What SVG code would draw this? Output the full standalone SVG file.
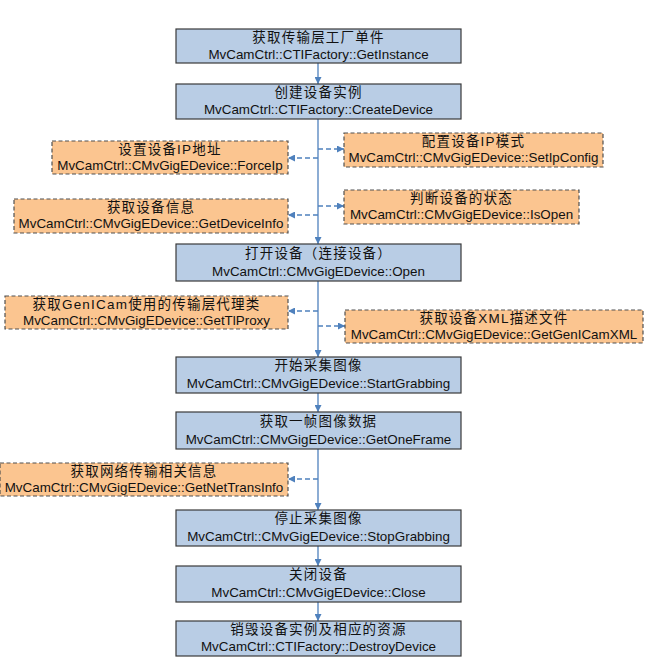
<svg xmlns="http://www.w3.org/2000/svg" width="649" height="667" viewBox="0 0 649 667">
<style>
.main rect{fill:#B9CDE5;stroke:#3a3a3a;stroke-width:1.2}
.opt rect{fill:#FBC590;stroke:#505050;stroke-width:1.2;stroke-dasharray:4 2.5}
text{font-family:"Liberation Sans","Noto Sans CJK SC",sans-serif;font-size:13.4px;fill:#111;text-anchor:middle}
text.cn{font-size:13.5px;letter-spacing:1.2px}
.flow{stroke:#4F81BD;stroke-width:1.3;fill:none}
.dash{stroke:#4F81BD;stroke-width:1.3;fill:none;stroke-dasharray:5 3}
</style>
<defs>
<marker id="ah" viewBox="0 0 10 10" refX="10" refY="5" markerWidth="7" markerHeight="7" markerUnits="userSpaceOnUse" orient="auto">
<path d="M0,0 L10,5 L0,10 Z" fill="#4F81BD"/>
</marker>
</defs>
<g id="connectors">
<line class="flow" x1="318" y1="63" x2="318" y2="84" marker-end="url(#ah)"/>
<line class="flow" x1="318" y1="119" x2="318" y2="244" marker-end="url(#ah)"/>
<line class="flow" x1="318" y1="281" x2="318" y2="357" marker-end="url(#ah)"/>
<line class="flow" x1="318" y1="393" x2="318" y2="412" marker-end="url(#ah)"/>
<line class="flow" x1="318" y1="449" x2="318" y2="510" marker-end="url(#ah)"/>
<line class="flow" x1="318" y1="546" x2="318" y2="566" marker-end="url(#ah)"/>
<line class="flow" x1="318" y1="602" x2="318" y2="621" marker-end="url(#ah)"/>
<line class="dash" x1="318" y1="158" x2="288" y2="158" marker-end="url(#ah)"/>
<line class="dash" x1="318" y1="149" x2="344" y2="149" marker-end="url(#ah)"/>
<line class="dash" x1="318" y1="215" x2="288" y2="215" marker-end="url(#ah)"/>
<line class="dash" x1="318" y1="206" x2="344" y2="206" marker-end="url(#ah)"/>
<line class="dash" x1="318" y1="311" x2="288" y2="311" marker-end="url(#ah)"/>
<line class="dash" x1="318" y1="326" x2="345" y2="326" marker-end="url(#ah)"/>
<line class="dash" x1="318" y1="479" x2="288" y2="479" marker-end="url(#ah)"/>
</g>
<g id="n1" class="main"><rect x="176" y="29" width="285" height="34"/><text class="cn" x="318.5" y="42">获取传输层工厂单件</text><text x="318.5" y="59">MvCamCtrl::CTIFactory::GetInstance</text></g>
<g id="n2" class="main"><rect x="176" y="84" width="285" height="35"/><text class="cn" x="318.5" y="97">创建设备实例</text><text x="318.5" y="114">MvCamCtrl::CTIFactory::CreateDevice</text></g>
<g id="o1" class="opt"><rect x="52" y="141" width="236" height="33"/><text class="cn" x="170" y="154">设置设备IP地址</text><text x="170" y="170">MvCamCtrl::CMvGigEDevice::ForceIp</text></g>
<g id="o2" class="opt"><rect x="344" y="133" width="259" height="34"/><text class="cn" x="473.5" y="146">配置设备IP模式</text><text x="473.5" y="162">MvCamCtrl::CMvGigEDevice::SetIpConfig</text></g>
<g id="o3" class="opt"><rect x="344" y="190" width="235" height="34"/><text class="cn" x="461.5" y="203">判断设备的状态</text><text x="461.5" y="219">MvCamCtrl::CMvGigEDevice::IsOpen</text></g>
<g id="o4" class="opt"><rect x="14" y="199" width="274" height="34"/><text class="cn" x="151" y="212">获取设备信息</text><text x="151" y="228">MvCamCtrl::CMvGigEDevice::GetDeviceInfo</text></g>
<g id="n3" class="main"><rect x="176" y="244" width="285" height="37"/><text class="cn" x="318.5" y="258">打开设备（连接设备）</text><text x="318.5" y="276">MvCamCtrl::CMvGigEDevice::Open</text></g>
<g id="o5" class="opt"><rect x="5" y="296" width="283" height="33"/><text class="cn" x="146.5" y="309">获取GenICam使用的传输层代理类</text><text x="146.5" y="325">MvCamCtrl::CMvGigEDevice::GetTlProxy</text></g>
<g id="o6" class="opt"><rect x="345" y="310" width="298" height="33"/><text class="cn" x="494" y="323">获取设备XML描述文件</text><text x="494" y="339">MvCamCtrl::CMvGigEDevice::GetGenICamXML</text></g>
<g id="n4" class="main"><rect x="176" y="357" width="285" height="36"/><text class="cn" x="318.5" y="370">开始采集图像</text><text x="318.5" y="388">MvCamCtrl::CMvGigEDevice::StartGrabbing</text></g>
<g id="n5" class="main"><rect x="176" y="412" width="285" height="37"/><text class="cn" x="318.5" y="426">获取一帧图像数据</text><text x="318.5" y="444">MvCamCtrl::CMvGigEDevice::GetOneFrame</text></g>
<g id="o7" class="opt"><rect x="0" y="463" width="288" height="33"/><text class="cn" x="144" y="476">获取网络传输相关信息</text><text x="144" y="492">MvCamCtrl::CMvGigEDevice::GetNetTransInfo</text></g>
<g id="n6" class="main"><rect x="176" y="510" width="285" height="36"/><text class="cn" x="318.5" y="523">停止采集图像</text><text x="318.5" y="541">MvCamCtrl::CMvGigEDevice::StopGrabbing</text></g>
<g id="n7" class="main"><rect x="176" y="566" width="285" height="36"/><text class="cn" x="318.5" y="579">关闭设备</text><text x="318.5" y="597">MvCamCtrl::CMvGigEDevice::Close</text></g>
<g id="n8" class="main"><rect x="176" y="621" width="285" height="35"/><text class="cn" x="318.5" y="634">销毁设备实例及相应的资源</text><text x="318.5" y="651">MvCamCtrl::CTIFactory::DestroyDevice</text></g>
</svg>
